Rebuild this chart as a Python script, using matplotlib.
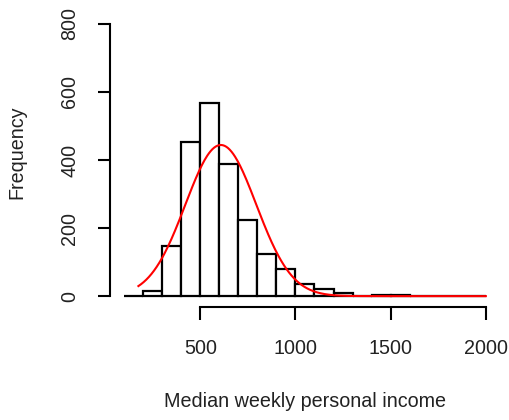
import numpy as np
import matplotlib
matplotlib.use("Agg")
import matplotlib.pyplot as plt

# histogram bins (width 100) and counts
bin_edges = list(range(100, 2001, 100))
counts = [0, 15, 148, 452, 567, 387, 224, 123, 81, 35, 22, 10, 0, 3, 4, 0, 0, 0, 0]

# fitted normal curve parameters
fit_mean = 608
fit_sd = 186
fit_from, fit_to = 175, 2000
n_obs = sum(counts)
bin_width = 100

xticks = [500, 1000, 1500, 2000]
yticks = [0, 200, 400, 600, 800]

plt.rcParams['font.family'] = ['Liberation Sans', 'DejaVu Sans']

fig = plt.figure(figsize=(5.1, 4.2), dpi=100)
ax = fig.add_axes([0.215, 0.269, 0.766, 0.70])

lefts = bin_edges[:-1]
ax.bar(lefts, counts, width=bin_width, align='edge', color='white',
       edgecolor='black', linewidth=1.6)

xs = np.linspace(fit_from, fit_to, 400)
dens = np.exp(-0.5 * ((xs - fit_mean) / fit_sd) ** 2) / (fit_sd * np.sqrt(2 * np.pi))
ax.plot(xs, dens * n_obs * bin_width, color='red', linewidth=1.5)

ax.set_xlim(24, 2076)
ax.set_ylim(-32, 832)
for s in ['top', 'right']:
    ax.spines[s].set_visible(False)
ax.spines['left'].set_bounds(0, 800)
ax.spines['bottom'].set_bounds(500, 2000)
for s in ['left', 'bottom']:
    ax.spines[s].set_linewidth(1.5)

ax.set_xticks(xticks)
ax.set_yticks(yticks)
ax.set_yticklabels([str(v) for v in yticks], rotation=90, va='center')
ax.tick_params(axis='both', direction='out', length=9, width=1.5,
               labelsize=14.2, colors='black', labelcolor='#222222')
ax.tick_params(axis='y', pad=13)
ax.tick_params(axis='x', pad=14)

ax.set_xlabel('Median weekly personal income', fontsize=14.2, color='#222222')
ax.set_ylabel('Frequency', fontsize=14.2, color='#222222')
ax.xaxis.set_label_coords(0.5, -0.323)
ax.xaxis.label.set_va('center')
ax.yaxis.set_label_coords(-0.2376, 0.5255)
ax.yaxis.label.set_va('center')

fig.savefig('out.png', dpi=100)
